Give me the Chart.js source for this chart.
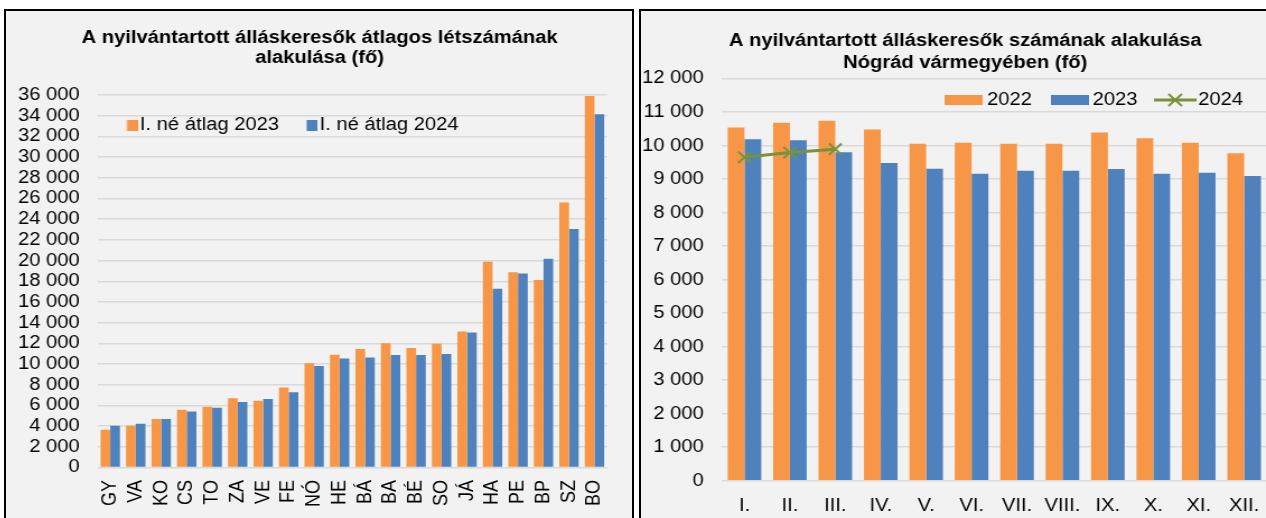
<!DOCTYPE html>
<html><head><meta charset="utf-8">
<script src="https://cdn.jsdelivr.net/npm/chart.js@4.4.1/dist/chart.umd.min.js"></script>
<style>
html,body{margin:0;padding:0;background:#fff;width:1266px;height:518px;overflow:hidden;position:relative}
.box{position:absolute;top:9px;height:530px;box-sizing:border-box;border:2px solid #000;background:#f2f2f2}
#boxL{left:4px;width:630px}
#boxR{left:639px;width:700px}
canvas{position:absolute;transform-origin:0 0;transform:scaleX(1.12)}
#cL{left:6px;top:11px}
#cR{left:641px;top:11px}
</style></head><body>
<div class="box" id="boxL"></div><div class="box" id="boxR"></div>
<canvas id="cL" width="560" height="507"></canvas>
<canvas id="cR" width="579" height="507"></canvas>
<script>
// ---- Left chart data ----
const countyLabels = ['GY','VA','KO','CS','TO','ZA','VE','FE','NÓ','HE','BÁ','BA','BÉ','SO','JÁ','HA','PE','BP','SZ','BO'];
const avg2023 = [3640,4030,4680,5570,5860,6700,6440,7730,10080,10890,11460,12020,11560,11950,13140,19890,18860,18120,25610,35910];
const avg2024 = [4030,4220,4680,5410,5770,6320,6610,7280,9820,10530,10620,10880,10880,10980,13040,17280,18760,20180,23060,34140];
const leftSeriesNames = ['I. né átlag 2023','I. né átlag 2024'];
const leftTitle = ['A nyilvántartott álláskeresők átlagos létszámának','alakulása (fő)'];
const leftTickLabels = ['0','2 000','4 000','6 000','8 000','10 000','12 000','14 000','16 000','18 000','20 000','22 000','24 000','26 000','28 000','30 000','32 000','34 000','36 000'];

// ---- Right chart data ----
const monthLabels = ['I.','II.','III.','IV.','V.','VI.','VII.','VIII.','IX.','X.','XI.','XII.'];
const count2022 = [10540,10680,10740,10480,10050,10080,10050,10050,10390,10220,10080,9770];
const count2023 = [10190,10160,9800,9480,9310,9160,9250,9250,9300,9160,9190,9090];
const count2024 = [9650,9790,9890];
const rightSeriesNames = ['2022','2023','2024'];
const rightTitle = ['A nyilvántartott álláskeresők számának alakulása','Nógrád vármegyében (fő)'];
const rightTickLabels = ['0','1 000','2 000','3 000','4 000','5 000','6 000','7 000','8 000','9 000','10 000','11 000','12 000'];

const ORANGE = '#F79646', BLUE = '#4F81BD', GREEN = '#77933C', GRID = '#d9d9d9';
Chart.defaults.font.family = '"Liberation Sans", Arial, sans-serif';
Chart.defaults.color = '#000';

function rectMarker(color, imgW, markW, markH) {
  const c = document.createElement('canvas');
  c.width = imgW; c.height = markH;
  const g = c.getContext('2d');
  g.fillStyle = color;
  g.fillRect(imgW - markW, 0, markW, markH);
  return c;
}
function lineCrossMarker(color, w, h) {
  const c = document.createElement('canvas');
  c.width = w; c.height = h;
  const g = c.getContext('2d');
  g.strokeStyle = color; g.lineWidth = 3;
  g.beginPath(); g.moveTo(0, h/2); g.lineTo(w, h/2); g.stroke();
  g.lineWidth = 2;
  const cx = w/2, cy = h/2, r = 6;
  g.beginPath(); g.moveTo(cx-r, cy-r); g.lineTo(cx+r, cy+r); g.moveTo(cx+r, cy-r); g.lineTo(cx-r, cy+r); g.stroke();
  return c;
}
function legendPos(id, left, top) {
  return { id, afterLayout(chart) {
    const lg = chart.legend; if (!lg) return;
    lg.left = left; lg.top = top; lg.right = chart.width; lg.bottom = top + 80;
  }};
}
// invisible right-hand spacer axis (keeps the full-width title centred on the frame)
function spacerAxis(w) {
  return {type: 'linear', position: 'right', display: true, grid: {display: false, drawTicks: false},
    border: {display: false}, ticks: {display: false}, afterFit: (s) => { s.width = w; }};
}

const leftMarkers = [rectMarker(ORANGE, 15, 9.5, 11), rectMarker(BLUE, 15, 9.5, 11)];
new Chart(document.getElementById('cL'), {
  type: 'bar',
  data: {
    labels: countyLabels,
    datasets: [
      {label: leftSeriesNames[0], data: avg2023, backgroundColor: ORANGE, categoryPercentage: 0.76, barPercentage: 1},
      {label: leftSeriesNames[1], data: avg2024, backgroundColor: BLUE, categoryPercentage: 0.76, barPercentage: 1}
    ]
  },
  options: {
    responsive: false, animation: false, devicePixelRatio: 1,
    layout: {padding: {left: 0, right: 0, top: 0, bottom: 0}},
    plugins: {
      title: {display: true, text: leftTitle, color: '#000', font: {size: 18, weight: 'bold', lineHeight: 20/18}, padding: {top: 16.7, bottom: 26.3}},
      legend: {display: true, position: 'top', align: 'start', maxHeight: 1,
        labels: {usePointStyle: true, pointStyleWidth: 1.2, padding: 26.1, color: '#000', font: {size: 18},
          generateLabels: (chart) => chart.data.datasets.map((ds, i) => ({text: ds.label, pointStyle: leftMarkers[i], fillStyle: ds.backgroundColor, strokeStyle: ds.backgroundColor, lineWidth: 0, hidden: false, datasetIndex: i, fontColor: '#000'}))}},
      tooltip: {enabled: false}
    },
    scales: {
      x: {grid: {display: false, drawTicks: false}, border: {display: false},
        ticks: {autoSkip: false, minRotation: 90, maxRotation: 90, padding: 12.5, color: '#000', font: {size: 18}},
        afterFit: (s) => { s.height = 50.5; }},
      y: {min: 0, max: 36000,
        ticks: {stepSize: 2000, autoSkip: false, padding: 16, color: '#000', font: {size: 18, lineHeight: 1}, callback: (v, i) => leftTickLabels[i]},
        grid: {color: GRID, lineWidth: 1.5, drawTicks: false}, border: {display: false},
        afterFit: (s) => { s.width = 81.7; }},
      pad: spacerAxis(19.4)
    }
  },
  plugins: [legendPos('legendPosL', 83.3, 78.9)]
});

const rightMarkers = [rectMarker(ORANGE, 34, 34, 10), rectMarker(BLUE, 34, 34, 10), lineCrossMarker(GREEN, 38, 14)];
new Chart(document.getElementById('cR'), {
  type: 'bar',
  data: {
    labels: monthLabels,
    datasets: [
      {label: rightSeriesNames[0], data: count2022, backgroundColor: ORANGE, categoryPercentage: 0.74, barPercentage: 1},
      {label: rightSeriesNames[1], data: count2023, backgroundColor: BLUE, categoryPercentage: 0.74, barPercentage: 1},
      {type: 'line', label: rightSeriesNames[2], data: count2024, borderColor: GREEN, backgroundColor: GREEN, borderWidth: 3,
        pointStyle: 'crossRot', pointRadius: 8, pointBorderWidth: 2, pointBorderColor: GREEN, fill: false, order: -1, tension: 0}
    ]
  },
  options: {
    responsive: false, animation: false, devicePixelRatio: 1,
    layout: {padding: {left: 0, right: 0, top: 0, bottom: 0}},
    plugins: {
      title: {display: true, text: rightTitle, color: '#000', font: {size: 18, weight: 'bold', lineHeight: 22.3/18}, padding: {top: 18.95, bottom: 2.95}},
      legend: {display: true, position: 'top', align: 'start', maxHeight: 1,
        labels: {usePointStyle: true, pointStyleWidth: 23.2, padding: 22, color: '#000', font: {size: 18},
          generateLabels: (chart) => chart.data.datasets.map((ds, i) => ({text: ds.label, pointStyle: rightMarkers[i], fillStyle: ds.backgroundColor, strokeStyle: ds.backgroundColor, lineWidth: 0, hidden: false, datasetIndex: i, fontColor: '#000'}))}},
      tooltip: {enabled: false}
    },
    scales: {
      x: {grid: {display: false, drawTicks: false}, border: {display: false},
        ticks: {autoSkip: false, maxRotation: 0, minRotation: 0, padding: 14.3, color: '#000', font: {size: 18}},
        afterFit: (s) => { s.height = 37.3; }},
      y: {min: 0, max: 12000,
        ticks: {stepSize: 1000, autoSkip: false, padding: 16.1, color: '#000', font: {size: 18, lineHeight: 1}, callback: (v, i) => rightTickLabels[i]},
        grid: {color: GRID, lineWidth: 1.5, drawTicks: false}, border: {display: false},
        afterFit: (s) => { s.width = 72.1; }},
      pad: spacerAxis(20.2)
    }
  },
  plugins: [legendPos('legendPosR', 254.8, 58)]
});
</script>
</body></html>
